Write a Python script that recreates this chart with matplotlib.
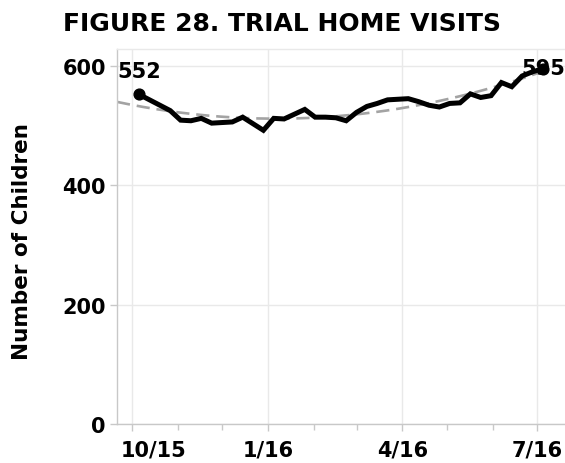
import matplotlib

matplotlib.use("Agg")
import matplotlib.pyplot as plt
import matplotlib.dates as mdates
import matplotlib.transforms as mtransforms
import numpy as np
import pandas as pd

plt.rcParams["font.family"] = ["DejaVu Sans"]
plt.rcParams["font.weight"] = "bold"

# weekly counts of children on trial home visits
start_date = "2015-10-06"
children = [
    552, 543, 534, 525, 509, 508, 512, 504, 505, 506,
    514, 503, 492, 512, 511, 519, 527, 514, 514, 513,
    508, 522, 532, 537, 543, 544, 545, 540, 534, 531,
    537, 538, 553, 547, 550, 572, 565, 583, 590, 595,
]
dates = pd.date_range(start_date, periods=len(children), freq="7D")

xlim = (pd.Timestamp("2015-09-21"), pd.Timestamp("2016-07-20"))
yticks = [0, 200, 400, 600]
xticks = pd.to_datetime(["2015-10-01", "2016-01-01", "2016-04-01", "2016-07-01"])
xtick_labels = ["10/15", "1/16", "4/16", "7/16"]

grey = "#c8c8c8"
grid_grey = "#e9e9e9"

fig = plt.figure(figsize=(5.65, 4.64), dpi=100)
ax = fig.add_axes([0.2071, 0.084, 0.7929, 0.808])

# quadratic trend line fitted to the series
xnum = mdates.date2num(dates)
coef = np.polyfit(xnum - xnum[0], children, 2)
trend_x = np.linspace(mdates.date2num(xlim[0]), xnum[-1], 200)
ax.plot(trend_x, np.polyval(coef, trend_x - xnum[0]), color="#a3a3a3",
        lw=1.9, dashes=(5.0, 2.6), zorder=2)

ax.plot(dates, children, color="black", lw=3.6, solid_joinstyle="miter", zorder=3)
ax.scatter([dates[0], dates[-1]], [children[0], children[-1]], s=60,
           color="black", zorder=4)

ax.annotate(str(children[0]), (dates[0], children[0]), xytext=(0, 23),
            textcoords="offset pixels", ha="center", va="center",
            fontsize=15, fontweight="bold", zorder=5)
ax.annotate(str(children[-1]), (dates[-1], children[-1]), xytext=(0, 1),
            textcoords="offset pixels", ha="center", va="center",
            fontsize=15, fontweight="bold", zorder=5)

ax.set_xlim(xlim)
ax.set_ylim(0, 628)
ax.set_yticks(yticks)
ax.set_xticks(xticks)
ax.set_xticklabels(xtick_labels)
ax.xaxis.set_minor_locator(mdates.MonthLocator())

ax.grid(True, which="major", color=grid_grey, lw=1.0, zorder=0)
ax.set_axisbelow(True)
for side in ["left", "bottom", "top", "right"]:
    ax.spines[side].set_color(grey)
    ax.spines[side].set_linewidth(1.0)
ax.spines["top"].set_color(grid_grey)
ax.spines["right"].set_visible(False)

ax.tick_params(axis="both", which="major", labelsize=15, colors=grey,
               labelcolor="black", length=5, width=1)
ax.tick_params(axis="x", which="minor", colors=grey, length=4, width=1)
ax.tick_params(axis="x", which="major", pad=6)
ax.tick_params(axis="y", which="major", pad=3)
for lbl in ax.get_xticklabels() + ax.get_yticklabels():
    lbl.set_fontweight("bold")

# first month label is pushed inside the plot edge
first = ax.get_xticklabels()[0]
first.set_horizontalalignment("left")
first.set_transform(first.get_transform()
                    + mtransforms.ScaledTranslation(-11 / 100, 0, fig.dpi_scale_trans))

fig.text(0.039, 0.480, "Number of Children", rotation=90, ha="center",
         va="center", fontsize=15.5, fontweight="bold")
fig.text(0.112, 0.948, "FIGURE 28. TRIAL HOME VISITS", ha="left",
         va="center", fontsize=18, fontweight="bold")

fig.savefig("out.png", dpi=100)
